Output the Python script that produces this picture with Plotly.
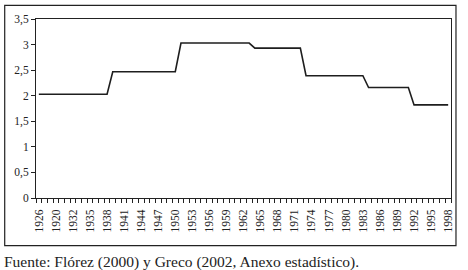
import plotly.graph_objects as go

years = list(range(1926, 1999))
values = [
    2.03, 2.03, 2.03, 2.03, 2.03, 2.03, 2.03, 2.03, 2.03, 2.03, 2.03, 2.03, 2.03,  # 1926-1938
    2.47, 2.47, 2.47, 2.47, 2.47, 2.47, 2.47, 2.47, 2.47, 2.47, 2.47, 2.47,        # 1939-1950
    3.03, 3.03, 3.03, 3.03, 3.03, 3.03, 3.03, 3.03, 3.03, 3.03, 3.03, 3.03, 3.03,  # 1951-1963
    2.93, 2.93, 2.93, 2.93, 2.93, 2.93, 2.93, 2.93, 2.93,                          # 1964-1972
    2.39, 2.39, 2.39, 2.39, 2.39, 2.39, 2.39, 2.39, 2.39, 2.39, 2.39,              # 1973-1983
    2.16, 2.16, 2.16, 2.16, 2.16, 2.16, 2.16, 2.16,                                # 1984-1991
    1.82, 1.82, 1.82, 1.82, 1.82, 1.82, 1.82,                                      # 1992-1998
]
tick_years = [1926, 1929, 1932, 1935, 1938, 1941, 1944, 1947, 1950, 1953, 1956, 1959,
              1962, 1965, 1968, 1971, 1974, 1977, 1980, 1983, 1986, 1989, 1992, 1995, 1998]
tick_labels = ["1926", "1920", "1932", "1935", "1938", "1941", "1944", "1947", "1950",
               "1953", "1956", "1959", "1962", "1965", "1968", "1971", "1974", "1977",
               "1980", "1983", "1986", "1989", "1992", "1995", "1998"]
y_ticks = [0, 0.5, 1, 1.5, 2, 2.5, 3, 3.5]
source_text = "Fuente: Flórez (2000) y Greco (2002, Anexo estadístico)."

FONT = "Liberation Serif"

fig = go.Figure()
fig.add_trace(go.Scatter(x=years, y=values, mode="lines",
                         line=dict(color="#1e1e1e", width=1.6), hoverinfo="skip",
                         showlegend=False))

fig.update_layout(
    width=468, height=270,
    margin=dict(l=36, r=17, t=19, b=72),
    paper_bgcolor="white", plot_bgcolor="white",
    separators=",.",
    font=dict(family=FONT, size=11, color="#222"),
    showlegend=False,
)
fig.update_xaxes(
    range=[1925.5, 1998.5],
    tickmode="array", tickvals=tick_years, ticktext=tick_labels,
    tickangle=-90, ticks="", ticklabelstandoff=6,
    minor=dict(tick0=1925.5, dtick=1, ticks="outside", ticklen=4, tickcolor="#222", tickwidth=1),
    showline=True, linecolor="#222", linewidth=1, mirror=True,
    showgrid=False, zeroline=False,
    tickfont=dict(family=FONT, size=11.5, color="#222"),
)
fig.update_yaxes(
    range=[0, 3.5], tickmode="array", tickvals=y_ticks,
    ticks="outside", ticklen=4, tickcolor="#222",
    showline=True, linecolor="#222", linewidth=1, mirror=True,
    showgrid=False, zeroline=False,
    tickfont=dict(family=FONT, size=11.5, color="#222"),
)

# outer frame
fig.add_shape(type="rect", xref="paper", yref="paper",
              x0=-0.0754, x1=1.012, y0=-0.2665, y1=1.076,
              line=dict(color="#222", width=1.2), fillcolor="rgba(0,0,0,0)")

fig.add_annotation(text=source_text, xref="paper", yref="paper",
                   x=-0.083, y=-0.355, xanchor="left", yanchor="middle",
                   showarrow=False, font=dict(family=FONT, size=15.5, color="#222"))

fig.write_html("out.html")
